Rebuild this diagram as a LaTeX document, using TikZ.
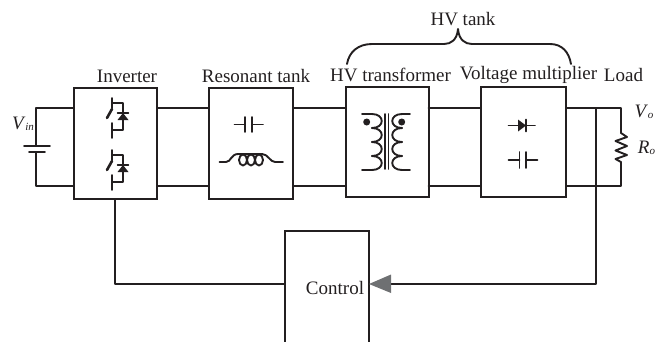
\documentclass[tikz,border=0pt]{standalone}
\usepackage{fontspec}
\setmainfont{Liberation Serif}
\usepackage{tikz}
\usetikzlibrary{calc}
\definecolor{wirecolor}{RGB}{35,31,32}
\definecolor{tipcolor}{RGB}{110,112,114}
\newcommand{\lowtxt}[1]{\raisebox{-0.5pt}{\fontsize{11}{12}\selectfont\itshape #1}}
\tikzset{
  wire/.style={
    draw=wirecolor,
    line width=1.9pt,
    line cap=round,
    line join=round
  },
  blockbox/.style={
    draw=wirecolor,
    line width=2pt,
    fill=white,
    minimum width=83pt,
    minimum height=111pt,
    outer sep=0pt,
    inner sep=0pt
  },
  lbl/.style={
    text=wirecolor,
    inner sep=0pt,
    font=\fontsize{19}{20}\selectfont
  },
  igbt/.pic={
    \draw[wire] (0,0) -- (0,10);
    \draw[wire] (0,5) -- (11,5) -- (11,32) -- (0,32);
    \draw[wire] (0,25) -- (0,40);
    \draw[wire, line width=2.6pt] (-5,20) -- (0,11);
    \draw[wire, line width=1.4pt] (5.5,15) -- (16.5,15);
    \fill[wirecolor] (11,15) -- (5.5,22) -- (16.5,22) -- cycle;
  }
}

\begin{document}
\begin{tikzpicture}[x=1pt,y=-1pt]
  \useasboundingbox (0,0) rectangle (662,341);

  % Levels of the two rails
  \coordinate (railtop) at (0,108);
  \coordinate (railbot) at (0,186);

  % Blocks
  \node[blockbox] (inv) at (115.5,143.5) {};
  \node[blockbox, minimum width=84pt] (res) at (251,143.5) {};
  \node[blockbox, minimum height=110pt] (xfm) at (387,142) {};
  \node[blockbox, minimum width=85pt, minimum height=110pt] (mult) at (523.5,142) {};
  \node[blockbox, minimum width=84pt, minimum height=130pt, anchor=north] (ctrl) at (327,231) {};

  % Titles
  \node[lbl] (invtxt) at (127,76) {Inverter};
  \node[lbl] (restxt) at (256,76) {Resonant tank};
  \node[lbl] (xfmtxt) at (390.5,75) {HV transformer};
  \node[lbl] (multtxt) at (528.5,75) {Voltage multiplier};
  \node[lbl] (loadtxt) at (623.5,75) {Load};
  \node[lbl] (hvtxt) at (463,19) {HV tank};
  \node[lbl] (ctrltxt) at (335,288) {Control};
  \node[lbl] (vintxt) at (23,124) {\textit{V}\lowtxt{in}};
  \node[lbl] (votxt) at (644,112) {\textit{V}\lowtxt{o}};
  \node[lbl] (rotxt) at (646.5,148) {\textit{R}\lowtxt{o}};

  % Brace
  \draw[wire] (347,64) .. controls (349,52) and (358,44) .. (372,44) -- (444,44)
    .. controls (451,44) and (457,40) .. (458,29)
    .. controls (459,40) and (465,44) .. (472,44) -- (550,44)
    .. controls (562,44) and (569,52) .. (571,64);

  % Source
  \coordinate (battp) at (36,146);
  \coordinate (battn) at (36,152);
  \draw[wire] (inv.west |- railtop) -| (battp);
  \draw[wire] (inv.west |- railbot) -| (battn);
  \draw[wire] (24,146) -- (50,146);
  \draw[wire] (29,152) -- (45,152);

  % Rails between blocks
  \foreach \a/\b in {inv/res,res/xfm,xfm/mult} {
    \draw[wire] (\a.east |- railtop) -- (\b.west |- railtop);
    \draw[wire] (\a.east |- railbot) -- (\b.west |- railbot);
  }

  % Inverter switches
  \pic at (112,98) {igbt};
  \pic at (112,150) {igbt};

  % Resonant tank
  \draw[wire] (234.5,124.5) -- (245,124.5) (245,117) -- (245,132);
  \draw[wire] (263,124.5) -- (252,124.5) (252,117) -- (252,132);
  \draw[wire] (219.5,162) -- (226,162) .. controls (231,162) and (231,154) .. (238,154)
    -- (262,154) .. controls (268,154) and (270,162) .. (275,162) -- (283,162);
  \foreach \x in {243,251,259} {
    \draw[wire] (\x,160) ellipse (4 and 5.5);
  }

  % Transformer
  \draw[wire] (385,114) -- (385,169);
  \draw[wire] (388.5,114) -- (388.5,169);
  \draw[wire] (362,114) -- (372,114);
  \draw[wire] (362,170) -- (372,170);
  \draw[wire] (402,114) -- (410,114);
  \draw[wire] (402,170) -- (410,170);
  \foreach \y in {114,128,142,156} {
    \draw[wire] (372,\y) .. controls (385,\y) and (385,\y+14) .. (372,\y+14);
    \draw[wire] (402,\y) .. controls (389,\y) and (389,\y+14) .. (402,\y+14);
  }
  \fill[wirecolor] (366.7,122) circle (3.5);
  \fill[wirecolor] (401.7,122) circle (3.5);

  % Multiplier
  \draw[wire] (508.5,125.5) -- (535,125.5);
  \draw[wire] (526,119.5) -- (526,131.5);
  \fill[wirecolor] (526,125.5) -- (518,119.5) -- (518,131.5) -- cycle;
  \draw[wire] (508.5,160) -- (519.5,160) (519.5,152) -- (519.5,168);
  \draw[wire] (537.5,160) -- (526,160) (526,152) -- (526,168);

  % Load
  \coordinate (rtop) at (621,133);
  \coordinate (rbot) at (621,162);
  \draw[wire] (mult.east |- railtop) -| (rtop);
  \draw[wire] (mult.east |- railbot) -| (rbot);
  \draw[wire] (rtop) -- (627,137) -- (615.5,141) -- (627,146) -- (615.5,150.5)
    -- (627,155) -- (615.5,159) -- (rbot);

  % Control loop
  \coordinate (tap) at (596,108);
  \coordinate (tipin) at (ctrl.east |- 0,284);
  \draw[wire] (tap) |- (391,284);
  \draw[wire] (inv.south -| 115,199) |- (ctrl.west |- tipin);
  \fill[tipcolor] (tipin) -- (391,274.5) -- (391,293) -- cycle;
\end{tikzpicture}
\end{document}
